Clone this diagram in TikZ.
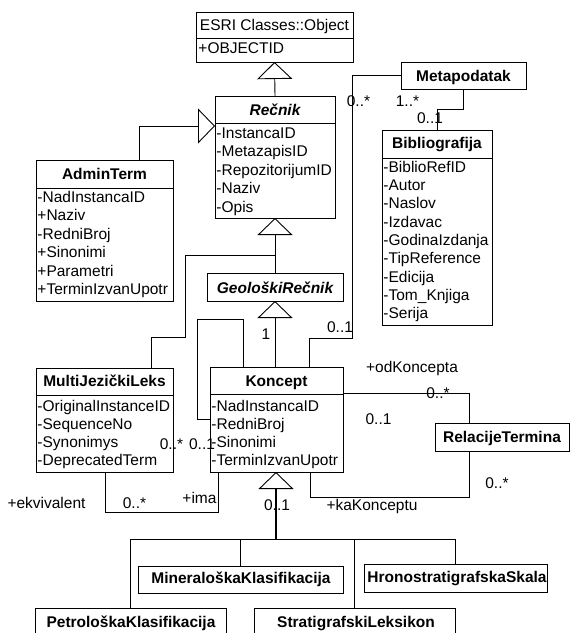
\documentclass[tikz,border=0pt]{standalone}
\usepackage{fontspec}
\setmainfont{Liberation Sans}
\usetikzlibrary{arrows.meta}
\newcommand\fsz{\fontsize{15.5}{18}\selectfont}
\begin{document}
\begin{tikzpicture}[x=1pt,y=-1pt, line width=0.9pt,
  box/.style={draw, inner sep=0pt, outer sep=0pt, anchor=north west},
  ttl/.style={font=\fsz\bfseries, anchor=base, inner sep=0pt},
  ttli/.style={font=\fsz\bfseries\itshape, anchor=base, inner sep=0pt},
  plain/.style={font=\fsz, anchor=base, inner sep=0pt},
  attr/.style={font=\fsz, anchor=base west, inner sep=0pt},
  lbl/.style={font=\fsz, anchor=base, inner sep=0pt},
  gen/.style={-{Triangle[open,length=17pt,width=35pt,line width=0.9pt]}}]
\useasboundingbox (0,0) rectangle (570,633);

% ---- ESRI Classes::Object
\node[box, minimum width=157pt, minimum height=50pt] (esri) at (196,12) {};
\draw (esri.north west) ++(0,26) -- ++(157,0);
\node[plain] (esriT) at (274.5,30) {ESRI Classes::Object};
\node[attr] (esriA) at (198,53) {+OBJECTID};

% ---- Recnik
\node[box, minimum width=120pt, minimum height=122pt] (recnik) at (215,96) {};
\draw (recnik.north west) ++(0,27) -- ++(120,0);
\node[ttli] (recnikT) at (275,115) {Rečnik};
\node[attr] (recA1) at (216,138) {-InstancaID};
\node[attr] (recA2) at (216,156.5) {-MetazapisID};
\node[attr] (recA3) at (216,175) {-RepozitorijumID};
\node[attr] (recA4) at (216,193.5) {-Naziv};
\node[attr] (recA5) at (216,212) {-Opis};

% ---- AdminTerm
\node[box, minimum width=137pt, minimum height=141pt] (admin) at (36,160) {};
\draw (admin.north west) ++(0,28) -- ++(137,0);
\node[ttl] (adminT) at (104.5,179.5) {AdminTerm};
\node[attr] (admA1) at (37,202) {-NadInstancaID};
\node[attr] (admA2) at (37,220.5) {+Naziv};
\node[attr] (admA3) at (37,239) {-RedniBroj};
\node[attr] (admA4) at (37,257.5) {+Sinonimi};
\node[attr] (admA5) at (37,276) {+Parametri};
\node[attr] (admA6) at (37,294.5) {+TerminIzvanUpotr};

% ---- Metapodatak
\node[box, minimum width=125pt, minimum height=27pt] (meta) at (401,62) {};
\node[ttl] (metaT) at (463.5,81.5) {Metapodatak};

% ---- Bibliografija
\node[box, minimum width=110pt, minimum height=195pt] (bib) at (382,130) {};
\draw (bib.north west) ++(0,28) -- ++(110,0);
\node[ttl] (bibT) at (437,148.5) {Bibliografija};
\node[attr] (bibA1) at (383,172) {-BiblioRefID};
\node[attr] (bibA2) at (383,190.3) {-Autor};
\node[attr] (bibA3) at (383,208.6) {-Naslov};
\node[attr] (bibA4) at (383,227) {-Izdavac};
\node[attr] (bibA5) at (383,245.3) {-GodinaIzdanja};
\node[attr] (bibA6) at (383,263.6) {-TipReference};
\node[attr] (bibA7) at (383,282) {-Edicija};
\node[attr] (bibA8) at (383,300.3) {-Tom\_Knjiga};
\node[attr] (bibA9) at (383,318.6) {-Serija};

% ---- GeoloskiRecnik
\node[box, minimum width=136pt, minimum height=28pt] (geo) at (207,273) {};
\node[ttli] (geoT) at (275,293) {GeološkiRečnik};

% ---- Koncept
\node[box, minimum width=133pt, minimum height=105pt] (koncept) at (210,367) {};
\draw (koncept.north west) ++(0,27) -- ++(133,0);
\node[ttl] (konT) at (276.5,386) {Koncept};
\node[attr] (konA1) at (211,411) {-NadInstancaID};
\node[attr] (konA2) at (211,429) {-RedniBroj};
\node[attr] (konA3) at (211,447) {-Sinonimi};
\node[attr] (konA4) at (211,465) {-TerminIzvanUpotr};

% ---- MultiJezickiLeks
\node[box, minimum width=137pt, minimum height=104pt] (mjl) at (36,368) {};
\draw (mjl.north west) ++(0,27) -- ++(137,0);
\node[ttl] (mjlT) at (104.5,386) {MultiJezičkiLeks};
\node[attr] (mjlA1) at (37,411) {-OriginalInstanceID};
\node[attr] (mjlA2) at (37,429) {-SequenceNo};
\node[attr] (mjlA3) at (37,447) {-Synonimys};
\node[attr] (mjlA4) at (37,465) {-DeprecatedTerm};

% ---- RelacijeTermina
\node[box, minimum width=134pt, minimum height=28pt] (rel) at (435,423) {};
\node[ttl] (relT) at (502,442) {RelacijeTermina};

% ---- subclasses
\node[box, minimum width=205pt, minimum height=27pt] (mineral) at (138,566) {};
\node[ttl] (mineralT) at (241,583.5) {MineraloškaKlasifikacija};
\node[box, minimum width=183pt, minimum height=28pt] (hrono) at (364,564) {};
\node[ttl] (hronoT) at (457,582) {HronostratigrafskaSkala};
\node[box, minimum width=191pt, minimum height=40pt] (petro) at (35,608) {};
\node[ttl] (petroT) at (131,627) {PetrološkaKlasifikacija};
\node[box, minimum width=201pt, minimum height=40pt] (strat) at (254,608) {};
\node[ttl] (stratT) at (356,627) {StratigrafskiLeksikon};

% ---- bend coordinates
\coordinate (a1) at (139,126);
\coordinate (m1) at (151,337);
\coordinate (m2) at (185,255);
\coordinate (m3) at (275,255);
\coordinate (s1) at (243,319);
\coordinate (s2) at (197,419);
\coordinate (p1) at (352,338);
\coordinate (p2) at (309,338);
\coordinate (b1) at (437,109);
\coordinate (e1) at (105,512);
\coordinate (e2) at (218,512);
\coordinate (r1) at (469,393);
\coordinate (r2) at (310,497);
\coordinate (r3) at (469,497);
\coordinate (j0) at (276,539);

% ---- generalizations
\draw[gen] (recnik.north) -- (esri.south);
\draw[gen] (admin.north -| a1) |- (recnik.west |- a1);
\draw[gen] (geo.north) -- (recnik.south);
\draw (mjl.north -| m1) -- (m1) -| (m2) -- (m3);
\draw[gen] (koncept.north -| geo.south) -- (geo.south);
\node[lbl] (l1) at (266,339) {1};

% ---- self association
\draw (koncept.north -| s1) -- (s1) -| (s2) -- (koncept.west |- s2);
\node[lbl] (ls1) at (171.5,449) {0..*};
\node[lbl] (ls2) at (202,449) {0..1};

% ---- Metapodatak associations
\draw (meta.west) -| (p1) -- (p2) -- (koncept.north -| p2);
\node[lbl] (lm1) at (358.5,106) {0..*};
\node[lbl] (lm2) at (407.5,106) {1..*};
\node[lbl] (lm3) at (340,332) {0..1};
\draw (meta.south) |- (b1) -- (bib.north -| b1);
\node[lbl] (lb1) at (430,123) {0..1};

% ---- ekvivalent / ima
\draw (mjl.south -| e1) -- (e1) -- (e2) -- (koncept.south -| e2);
\node[lbl] (le1) at (46.5,508) {+ekvivalent};
\node[lbl] (le2) at (134.5,508) {0..*};
\node[lbl] (le3) at (199.5,503) {+ima};

% ---- RelacijeTermina associations
\draw (koncept.east |- r1) -| (rel.north -| r1);
\node[lbl] (lr1) at (412,372) {+odKoncepta};
\node[lbl] (lr2) at (438,398) {0..*};
\node[lbl] (lr3) at (378.5,424) {0..1};
\draw (koncept.south -| r2) -- (r2) -- (r3) -- (rel.south -| r3);
\node[lbl] (lr4) at (372,510) {+kaKonceptu};
\node[lbl] (lr5) at (497,488) {0..*};

% ---- subclasses of Koncept
\draw (petro.north) |- (j0);
\draw (mineral.north) |- (j0);
\draw (strat.north) |- (j0);
\draw (hrono.north) |- (j0);
\draw[-{Triangle[open,length=17pt,width=35pt,line width=0.9pt]}, line width=1.8pt] (j0) -- (koncept.south -| j0);
\node[lbl] (lk1) at (277,510) {0..1};
\end{tikzpicture}
\end{document}
